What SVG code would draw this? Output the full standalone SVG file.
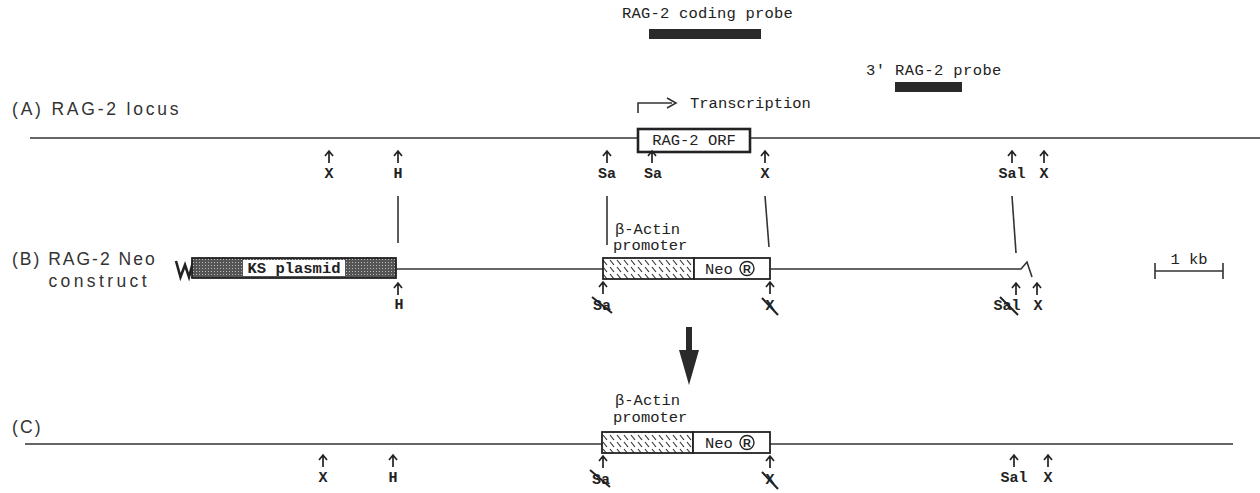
<svg xmlns="http://www.w3.org/2000/svg" xmlns:xlink="http://www.w3.org/1999/xlink" width="1260" height="493" viewBox="0 0 1260 493">
<style>
.sans{font-family:"Liberation Sans","DejaVu Sans",sans-serif;font-size:17.5px;fill:#333;letter-spacing:2.2px}
.mono{font-family:"Liberation Mono","DejaVu Sans Mono",monospace;font-size:15.5px;fill:#222}
.lab{font-family:"Liberation Mono","DejaVu Sans Mono",monospace;font-size:15px;font-weight:bold;fill:#222;text-anchor:middle}
.ln{stroke:#333;stroke-width:1.6;fill:none}
.ra{stroke:#222;stroke-width:1.7;fill:none}
.strike{stroke:#222;stroke-width:2;fill:none}
.box{stroke:#222;stroke-width:1.8}
.rmark{font-family:"Liberation Sans",sans-serif;font-size:11px;font-weight:bold;fill:#222;text-anchor:middle}
</style>
<defs>
<path id="ra" d="M0,0 V12 M-4,5 L0,0 L4,5" class="ra"/>
<pattern id="hatch" width="7" height="7" patternUnits="userSpaceOnUse">
<rect width="7" height="7" fill="#fff"/>
<path d="M1,1 L5,6" stroke="#333" stroke-width="1.2"/>
</pattern>
<pattern id="stip" width="3" height="3" patternUnits="userSpaceOnUse">
<rect width="3" height="3" fill="#555"/>
<rect x="1" y="1" width="1" height="1" fill="#bbb"/>
</pattern>
</defs>

<g id="probes">
<text class="mono" x="622" y="18" style="letter-spacing:0.2px">RAG-2 coding probe</text>
<rect x="649" y="29" width="112" height="10" fill="#2a2a2a"/>
<text class="mono" x="866" y="75" style="letter-spacing:0.4px">3' RAG-2 probe</text>
<rect x="895" y="82" width="67" height="10" fill="#2a2a2a"/>
</g>

<g id="rowA">
<text class="sans" x="12" y="115" style="letter-spacing:2.8px">(A) RAG-2 locus</text>
<line class="ln" x1="30" y1="138" x2="1260" y2="138"/>
<path d="M638,113 V103 H672" class="ln"/>
<path d="M667,98 L676,103 L667,108" class="ln" stroke-width="2"/>
<text class="mono" x="690" y="108">Transcription</text>
<rect x="638" y="129" width="112" height="23" fill="#fff" stroke="#222" stroke-width="2.6"/>
<text class="mono" x="694" y="145" text-anchor="middle">RAG-2 ORF</text>
<use href="#ra" x="329" y="151"/><text class="lab" x="329" y="178">X</text>
<use href="#ra" x="398" y="151"/><text class="lab" x="398" y="178">H</text>
<use href="#ra" x="607" y="151"/><text class="lab" x="607" y="178">Sa</text>
<use href="#ra" x="652" y="151"/><text class="lab" x="653" y="178">Sa</text>
<use href="#ra" x="765" y="151"/><text class="lab" x="765" y="178">X</text>
<use href="#ra" x="1012" y="151"/><text class="lab" x="1012" y="178">Sal</text>
<use href="#ra" x="1044" y="151"/><text class="lab" x="1044" y="178">X</text>
</g>

<g id="connectors">
<line class="ln" x1="398" y1="196" x2="398" y2="243"/>
<line class="ln" x1="607" y1="196" x2="607" y2="245"/>
<line class="ln" x1="765" y1="196" x2="769" y2="247"/>
<line class="ln" x1="1012" y1="196" x2="1016" y2="253"/>
<path d="M689,327 V352" stroke="#2a2a2a" stroke-width="6"/>
<path d="M679,350 L699,350 L689,385 Z" fill="#2a2a2a"/>
</g>

<g id="rowB">
<text class="sans" x="12" y="265" style="letter-spacing:2.0px">(B) RAG-2 Neo</text>
<text class="sans" x="150" y="287" text-anchor="end" style="letter-spacing:3.4px">construct</text>
<path d="M176,261 L180.5,277 L185,265 L189,277 L193,262" fill="none" stroke="#222" stroke-width="2.6"/>
<rect x="192" y="258" width="204" height="20" fill="url(#stip)" class="box"/>
<rect x="243" y="260" width="102" height="16" fill="#fff"/>
<text class="mono" x="294" y="273" text-anchor="middle" font-weight="bold">KS plasmid</text>
<line class="ln" x1="396" y1="269" x2="603" y2="269"/>
<text class="mono" x="615" y="234">β-Actin</text>
<text class="mono" x="613" y="250">promoter</text>
<rect x="603" y="258" width="91" height="21" fill="url(#hatch)" class="box"/>
<rect x="694" y="258" width="76" height="21" fill="#fff" class="box"/>
<text class="mono" x="705" y="274">Neo</text>
<circle cx="747" cy="268.5" r="7" fill="none" stroke="#222" stroke-width="1.4"/>
<text class="rmark" x="747" y="273">R</text>
<path d="M770,269 H1021 L1027,262 L1032,277" class="ln"/>
<use href="#ra" x="398" y="283"/><text class="lab" x="399" y="309">H</text>
<use href="#ra" x="603" y="282"/><text class="lab" x="602" y="310">Sa</text>
<line class="strike" x1="592" y1="297" x2="612" y2="313"/>
<use href="#ra" x="770" y="282"/><text class="lab" x="770" y="310">X</text>
<line class="strike" x1="762" y1="298" x2="778" y2="315"/>
<use href="#ra" x="1016" y="283"/><text class="lab" x="1007" y="310">Sal</text>
<line class="strike" x1="1000" y1="297" x2="1018" y2="315"/>
<use href="#ra" x="1037" y="283"/><text class="lab" x="1038" y="310">X</text>
</g>

<g id="scale">
<path d="M1155,263 V279 M1155,271 H1223 M1223,263 V279" class="ln"/>
<text class="mono" x="1189" y="264" text-anchor="middle">1 kb</text>
</g>

<g id="rowC">
<text class="sans" x="12" y="433">(C)</text>
<line class="ln" x1="25" y1="444" x2="602" y2="444"/>
<line class="ln" x1="770" y1="444" x2="1233" y2="444"/>
<text class="mono" x="615" y="405">β-Actin</text>
<text class="mono" x="613" y="422">promoter</text>
<rect x="602" y="432" width="91" height="21" fill="url(#hatch)" class="box"/>
<rect x="693" y="432" width="77" height="21" fill="#fff" class="box"/>
<text class="mono" x="705" y="448">Neo</text>
<circle cx="747" cy="442.5" r="7" fill="none" stroke="#222" stroke-width="1.4"/>
<text class="rmark" x="747" y="447">R</text>
<use href="#ra" x="323" y="455"/><text class="lab" x="323" y="482">X</text>
<use href="#ra" x="393" y="455"/><text class="lab" x="393" y="482">H</text>
<use href="#ra" x="603" y="456"/><text class="lab" x="601" y="484">Sa</text>
<line class="strike" x1="590" y1="470" x2="610" y2="487"/>
<use href="#ra" x="770" y="456"/><text class="lab" x="770" y="484">X</text>
<line class="strike" x1="762" y1="472" x2="778" y2="489"/>
<use href="#ra" x="1014" y="455"/><text class="lab" x="1014" y="482">Sal</text>
<use href="#ra" x="1048" y="455"/><text class="lab" x="1048" y="482">X</text>
</g>
</svg>
